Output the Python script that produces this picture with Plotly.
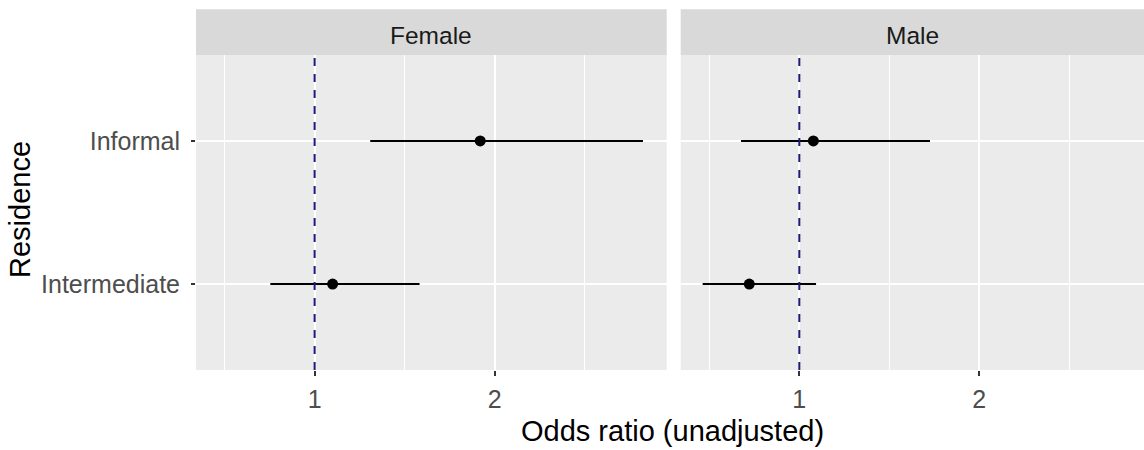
import plotly.graph_objects as go

# ---- data ----
categories = ["Intermediate", "Informal"]
panels = ["Female", "Male"]
female_or = [1.10, 1.92]
female_lo = [0.754, 1.309]
female_hi = [1.583, 2.824]
male_or = [0.722, 1.078]
male_lo = [0.463, 0.676]
male_hi = [1.093, 1.726]
x_tickvals = [1, 2]
x_ticktext = ["1", "2"]
x_minor = [0.5, 1.5, 2.5]
ref_value = 1

W, H = 1144, 450
FONT = "Arial, Liberation Sans, sans-serif"

def px_x(p):
    return p / W

def px_y(p):
    return 1 - p / H

panel_top, panel_bottom = 55, 370
strip_top = 9.3
dom_f = [px_x(196), px_x(666.7)]
dom_m = [px_x(680.7), 1.0]
scale = 180.0  # px per unit
xr_f = [0.341, 0.341 + (666.7 - 196) / scale]
xr_m = [0.341, 0.341 + (W - 680.7) / scale]

fig = go.Figure()
series = [(female_or, female_lo, female_hi, "x", "y"),
          (male_or, male_lo, male_hi, "x2", "y2")]
for vals, lo, hi, xa, ya in series:
    fig.add_trace(go.Scatter(
        x=vals, y=categories, xaxis=xa, yaxis=ya, mode="markers",
        marker=dict(color="black", size=11),
        error_x=dict(type="data", symmetric=False,
                     array=[h - v for h, v in zip(hi, vals)],
                     arrayminus=[v - l for v, l in zip(vals, lo)],
                     width=0, thickness=2, color="black"),
        showlegend=False, hoverinfo="skip"))

tickfont = dict(family=FONT, size=25, color="#4D4D4D")
xcommon = dict(tickvals=x_tickvals, ticktext=x_ticktext, ticks="outside",
               ticklen=5, tickwidth=1.5, tickcolor="#333333",
               showgrid=True, gridcolor="white", gridwidth=2,
               minor=dict(tickvals=x_minor, showgrid=True, gridcolor="white",
                          gridwidth=1, ticks=""),
               zeroline=False, showline=False, tickfont=tickfont,
               ticklabelstandoff=2, fixedrange=True)
ycommon = dict(type="category", categoryorder="array", categoryarray=categories,
               range=[-0.6, 1.6], domain=[px_y(panel_bottom), px_y(panel_top)],
               showgrid=True, gridcolor="white", gridwidth=2, zeroline=False,
               showline=False, fixedrange=True)

fig.update_layout(
    width=W, height=H, margin=dict(l=0, r=0, t=0, b=0),
    paper_bgcolor="white", plot_bgcolor="#EBEBEB",
    xaxis=dict(domain=dom_f, range=xr_f, anchor="y", **xcommon),
    xaxis2=dict(domain=dom_m, range=xr_m, anchor="y2", **xcommon),
    yaxis=dict(anchor="x", ticks="outside", ticklen=4, tickwidth=1.5,
               tickcolor="#333333", tickfont=tickfont, ticklabelstandoff=6,
               **ycommon),
    yaxis2=dict(anchor="x2", showticklabels=False, ticks="", **ycommon),
)

shapes = []
annotations = []
for name, dom, xref in [(panels[0], dom_f, "x"), (panels[1], dom_m, "x2")]:
    shapes.append(dict(type="rect", xref="paper", yref="paper",
                       x0=dom[0], x1=dom[1], y0=px_y(panel_top), y1=px_y(strip_top),
                       fillcolor="#D9D9D9", line=dict(width=0), layer="below"))
    shapes.append(dict(type="line", xref=xref, yref="paper",
                       x0=ref_value, x1=ref_value,
                       y0=px_y(panel_bottom), y1=px_y(panel_top), layer="above",
                       line=dict(color="#1C1C78", width=2, dash="8px,8px")))
    annotations.append(dict(text=name, xref="paper", yref="paper",
                            x=(dom[0] + dom[1]) / 2, y=px_y((strip_top + panel_top) / 2 + 3),
                            xanchor="center", yanchor="middle", showarrow=False,
                            font=dict(family=FONT, size=24.5, color="#1A1A1A")))

annotations.append(dict(text="Odds ratio (unadjusted)", xref="paper", yref="paper",
                        x=px_x(672), y=px_y(431), xanchor="center", yanchor="middle",
                        showarrow=False, font=dict(family=FONT, size=29, color="black")))
annotations.append(dict(text="Residence", xref="paper", yref="paper",
                        x=px_x(20), y=px_y(210), xanchor="center", yanchor="middle",
                        textangle=-90, showarrow=False,
                        font=dict(family=FONT, size=29, color="black")))
fig.update_layout(shapes=shapes, annotations=annotations)

fig.write_html("out.html", config={"displayModeBar": False},
               post_script="document.body.style.margin='0';document.body.style.overflow='hidden';")
